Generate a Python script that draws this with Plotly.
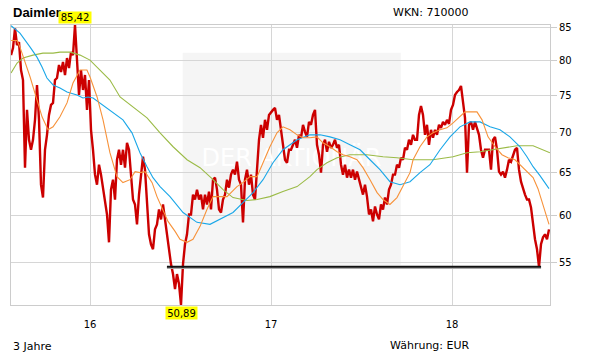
import numpy as np
import plotly.graph_objects as go

# ---------------- data ----------------
# time axis in fractional years (ticks at 2016, 2017, 2018 shown as "16","17","18")
t_start, t_end = 2015.5635, 2018.5359
price_values = [
    80.79, 81.84, 84.9, 82.30, 82.76, 78.59, 77.15, 65.6, 73.00, 69.07,
    67.81, 69.07, 71.67, 76.45, 71.67, 63.57, 62.07, 67.81, 69.71, 72.33,
    73.68, 73.95, 77.15, 77.44, 79.32, 78.30, 79.76, 77.87, 80.35, 78.88,
    81.24, 80.79, 85.42, 80.79, 75.05, 78.59, 75.74, 77.87, 73.00, 77.15,
    70.36, 67.81, 64.76, 63.57, 65.96, 64.76, 62.99, 61.28, 60.16, 57.14,
    62.99, 64.16, 61.84, 66.57, 67.81, 65.96, 67.81, 65.6, 68.69, 67.81,
    64.76, 61.84, 61.28, 59.07, 62.41, 64.76, 66.94, 65.36, 61.84, 57.99,
    56.93, 56.41, 58.52, 59.07, 60.72, 59.61, 61.28, 59.61, 57.46, 56.41,
    54.88, 53.88, 52.41, 53.88, 52.90, 50.89, 54.88, 56.93, 57.99, 60.16,
    60.16, 62.41, 61.84, 62.99, 61.84, 62.41, 60.72, 62.41, 61.28, 62.76,
    60.72, 64.16, 64.40, 62.99, 60.72, 60.38, 61.84, 62.41, 64.16, 63.22,
    64.76, 65.36, 64.76, 66.33, 64.16, 63.57, 59.29, 64.16, 65.36, 63.57,
    64.76, 62.41, 61.84, 65.36, 69.07, 71.01, 69.33, 71.67, 70.36, 72.33,
    72.73, 73.00, 73.27, 71.67, 72.33, 70.36, 69.07, 66.57, 66.20, 67.81,
    67.81, 68.44, 69.07, 68.06, 69.71, 69.33, 71.01, 70.10, 69.45, 71.40,
    71.01, 72.33, 73.00, 68.44, 67.19, 65.00, 68.44, 69.07, 67.56, 68.82,
    68.06, 68.44, 69.07, 68.06, 68.44, 65.96, 64.76, 65.96, 64.40, 65.36,
    64.40, 65.36, 64.16, 65.12, 64.16, 63.57, 62.41, 63.57, 62.18, 60.16,
    60.72, 59.39, 61.06, 60.16, 59.61, 61.28, 60.72, 62.07, 61.28, 62.99,
    63.57, 64.76, 64.76, 65.96, 65.6, 66.82, 66.57, 68.06, 67.81, 69.07,
    68.44, 69.71, 69.07, 69.07, 72.33, 73.54, 72.33, 69.71, 71.01, 68.44,
    70.36, 69.33, 70.36, 69.71, 71.01, 70.62, 71.40, 71.01, 71.67, 71.14,
    73.00, 73.68, 75.05, 75.46, 75.74, 76.31, 74.36, 71.93, 65.00, 71.01,
    71.40, 70.36, 71.40, 70.36, 69.71, 67.81, 66.82, 67.81, 67.81, 67.81,
    65.36, 69.07, 69.45, 67.81, 65.12, 64.76, 65.12, 64.40, 65.36, 66.57,
    66.33, 67.19, 67.81, 68.06, 65.36, 63.92, 62.99, 62.41, 61.84, 61.84,
    60.95, 59.07, 57.46, 56.41, 54.6, 56.93, 57.67, 57.99, 57.46, 58.52,
]
price_t = np.linspace(t_start, t_end, len(price_values))

ma_short_t = [2015.564, 2015.597, 2015.613, 2015.669, 2015.707, 2015.735, 2015.768, 2015.796,
              2015.834, 2015.873, 2015.906, 2015.945, 2015.983, 2016.000, 2016.039, 2016.072,
              2016.110, 2016.149, 2016.182, 2016.221, 2016.249, 2016.276, 2016.304, 2016.343,
              2016.370, 2016.403, 2016.431, 2016.470, 2016.497, 2016.536, 2016.569, 2016.608,
              2016.646, 2016.680, 2016.718, 2016.757, 2016.812, 2016.845, 2016.884, 2016.923,
              2016.956, 2016.994, 2017.033, 2017.066, 2017.105, 2017.144, 2017.177, 2017.215,
              2017.254, 2017.287, 2017.326, 2017.365, 2017.398, 2017.436, 2017.475, 2017.508,
              2017.547, 2017.586, 2017.619, 2017.657, 2017.696, 2017.729, 2017.768, 2017.785,
              2017.823, 2017.862, 2017.895, 2017.934, 2017.972, 2018.006, 2018.044, 2018.072,
              2018.138, 2018.166, 2018.199, 2018.238, 2018.276, 2018.309, 2018.348, 2018.387,
              2018.420, 2018.448, 2018.475, 2018.503, 2018.536]
ma_short_v = [83.0, 83.0, 82.0, 77.58, 74.36, 72.07, 70.36, 70.75, 72.07, 73.95, 76.73, 78.59,
              78.59, 77.58, 74.77, 71.67, 67.44, 64.52, 63.81, 64.16, 65.12, 65.00, 65.12, 63.81,
              62.18, 60.72, 59.39, 58.31, 57.46, 57.14, 57.46, 58.85, 60.72, 62.18, 62.18, 62.18,
              63.34, 63.81, 64.52, 64.52, 66.20, 68.19, 69.97, 70.75, 70.36, 69.71, 69.33, 69.33,
              69.45, 68.69, 68.19, 67.56, 67.19, 66.94, 66.57, 65.6, 64.16, 62.64, 61.84, 61.28,
              62.07, 63.34, 65.00, 66.57, 68.19, 69.45, 69.97, 70.36, 70.62, 71.27, 72.07, 72.73,
              72.73, 71.67, 69.45, 68.19, 67.19, 66.82, 66.57, 65.72, 65.00, 64.4, 63.1, 61.3, 59.07]

ma_mid_t = [2015.564, 2015.613, 2015.669, 2015.707, 2015.735, 2015.762, 2015.796, 2015.834,
            2015.873, 2015.928, 2015.961, 2015.989, 2016.017, 2016.055, 2016.094, 2016.127,
            2016.182, 2016.232, 2016.276, 2016.315, 2016.348, 2016.387, 2016.442, 2016.514,
            2016.591, 2016.663, 2016.735, 2016.790, 2016.845, 2016.901, 2016.956, 2017.011,
            2017.066, 2017.144, 2017.215, 2017.271, 2017.326, 2017.381, 2017.436, 2017.492,
            2017.547, 2017.602, 2017.657, 2017.713, 2017.768, 2017.823, 2017.878, 2017.934,
            2017.989, 2018.044, 2018.099, 2018.155, 2018.210, 2018.265, 2018.320, 2018.376,
            2018.414, 2018.448, 2018.486, 2018.536]
ma_mid_v = [85.3, 84.14, 82.0, 80.49, 79.03, 77.44, 76.45, 76.03, 75.46, 75.05, 74.63, 74.77,
            74.63, 73.95, 73.27, 72.73, 71.67, 69.97, 67.44, 65.72, 64.40, 63.34, 62.18, 60.38,
            59.29, 59.07, 59.83, 60.38, 61.50, 62.64, 64.16, 66.20, 67.81, 69.07, 69.71, 69.71,
            69.45, 69.07, 68.44, 67.81, 66.57, 65.36, 63.92, 63.57, 63.92, 65.00, 65.96, 67.81,
            69.45, 70.75, 71.40, 71.40, 70.75, 70.36, 69.45, 68.19, 66.94, 65.72, 64.64, 63.1]

ma_long_t = [2015.564, 2015.597, 2015.630, 2015.685, 2015.740, 2015.796, 2015.834, 2015.890,
             2015.945, 2016.000, 2016.055, 2016.110, 2016.166, 2016.238, 2016.315, 2016.387,
             2016.459, 2016.536, 2016.608, 2016.680, 2016.735, 2016.790, 2016.867, 2016.923,
             2016.994, 2017.066, 2017.144, 2017.215, 2017.254, 2017.309, 2017.365, 2017.436,
             2017.530, 2017.619, 2017.696, 2017.785, 2017.895, 2018.006, 2018.083, 2018.155,
             2018.265, 2018.359, 2018.448, 2018.503, 2018.541]
ma_long_v = [78.16, 79.61, 80.35, 80.79, 81.09, 81.09, 81.24, 81.24, 80.79, 80.05, 78.59, 77.15,
             74.77, 73.41, 71.93, 69.97, 68.19, 66.57, 65.6, 64.16, 62.99, 62.07, 61.73, 61.84,
             62.18, 62.76, 63.34, 64.52, 65.36, 66.20, 66.82, 67.19, 67.19, 66.94, 66.82, 66.57,
             66.57, 66.94, 67.44, 67.56, 67.94, 68.31, 68.31, 67.81, 67.44]

y_ticks = [55, 60, 65, 70, 75, 80, 85]
x_tickvals = [2016, 2017, 2018]
x_ticktext = ["16", "17", "18"]

high_t, high_v, high_label = 2015.917, 85.42, "85,42"
low_t, low_v, low_label = 2016.503, 50.89, "50,89"
support_level = 54.6
support_t = [2016.425, 2018.492]

x_range = [2015.5635, 2018.5414]
y_range = [float(np.log10(50.88)), float(np.log10(85.42))]

# ---------------- figure ----------------
FONT = "DejaVu Sans"
fig = go.Figure()

# watermark text (below lines)
fig.add_trace(go.Scatter(x=[2017.113], y=[66.55], mode="text", text=["DER AKTIONÄR"],
                         textfont=dict(family=FONT, size=24, color="#ffffff"),
                         hoverinfo="skip", showlegend=False))

fig.add_trace(go.Scatter(x=price_t, y=price_values, mode="lines",
                         line=dict(color="#cc0000", width=2.4), showlegend=False))
fig.add_trace(go.Scatter(x=ma_long_t, y=ma_long_v, mode="lines",
                         line=dict(color="#9bbb47", width=1.1), showlegend=False))
fig.add_trace(go.Scatter(x=ma_mid_t, y=ma_mid_v, mode="lines",
                         line=dict(color="#1aa7e8", width=1.1), showlegend=False))
fig.add_trace(go.Scatter(x=ma_short_t, y=ma_short_v, mode="lines",
                         line=dict(color="#f7923a", width=1.1), showlegend=False))
# support line with light shadow
fig.add_trace(go.Scatter(x=support_t, y=[support_level * 0.9975] * 2, mode="lines",
                         line=dict(color="#aaaaaa", width=1.5), showlegend=False))
fig.add_trace(go.Scatter(x=support_t, y=[support_level] * 2, mode="lines",
                         line=dict(color="#111111", width=2), showlegend=False))

fig.update_layout(
    width=611, height=364, autosize=False,
    margin=dict(l=11, r=61, t=25, b=59, pad=0),
    paper_bgcolor="white", plot_bgcolor="white",
    font=dict(family=FONT, size=10, color="#000000"),
    showlegend=False,
    xaxis=dict(range=x_range, tickvals=x_tickvals, ticktext=x_ticktext,
               showgrid=True, gridcolor="#d6d6d6", gridwidth=1,
               showline=True, linecolor="#cccccc", linewidth=1, mirror=True,
               ticks="", zeroline=False, tickfont=dict(size=10),
               ticklabelstandoff=10),
    yaxis=dict(type="log", range=y_range, side="right", tickvals=y_ticks,
               ticktext=[str(v) for v in y_ticks],
               showgrid=True, gridcolor="#d6d6d6", gridwidth=1,
               showline=True, linecolor="#cccccc", linewidth=1, mirror=True,
               ticks="outside", ticklen=6, tickcolor="#cccccc",
               zeroline=False, tickfont=dict(size=10)),
    shapes=[dict(type="rect", xref="x", yref="paper", x0=2016.512, x1=2017.717,
                 y0=0.1429, y1=0.901, fillcolor="#f5f5f5", line=dict(width=0),
                 layer="below")],
    annotations=[
        dict(text="<b>Daimler</b>", xref="paper", yref="paper", x=0.0, y=1.046,
             xanchor="left", yanchor="middle", showarrow=False,
             font=dict(family="Liberation Sans", size=13, color="#000")),
        dict(text="WKN: 710000", xref="paper", yref="paper", x=0.705, y=1.043,
             xanchor="left", yanchor="middle", showarrow=False,
             font=dict(family=FONT, size=11, color="#000")),
        dict(text="3 Jahre", xref="paper", yref="paper", x=0.0, y=-0.149,
             xanchor="left", yanchor="middle", showarrow=False,
             font=dict(family=FONT, size=11, color="#000")),
        dict(text="Währung: EUR", xref="paper", yref="paper", x=0.699, y=-0.146,
             xanchor="left", yanchor="middle", showarrow=False,
             font=dict(family=FONT, size=11, color="#000")),
        dict(text=high_label, xref="x", yref="paper", x=high_t, y=1.002,
             xanchor="center", yanchor="bottom", showarrow=False,
             bgcolor="#ffff00", borderpad=0, width=32, height=11,
             font=dict(family=FONT, size=10, color="#000")),
        dict(text=low_label, xref="x", yref="paper", x=low_t, y=-0.002,
             xanchor="center", yanchor="top", showarrow=False,
             bgcolor="#ffff00", borderpad=0, width=31, height=12,
             font=dict(family=FONT, size=10, color="#000")),
    ],
)

fig.write_html("out.html")
